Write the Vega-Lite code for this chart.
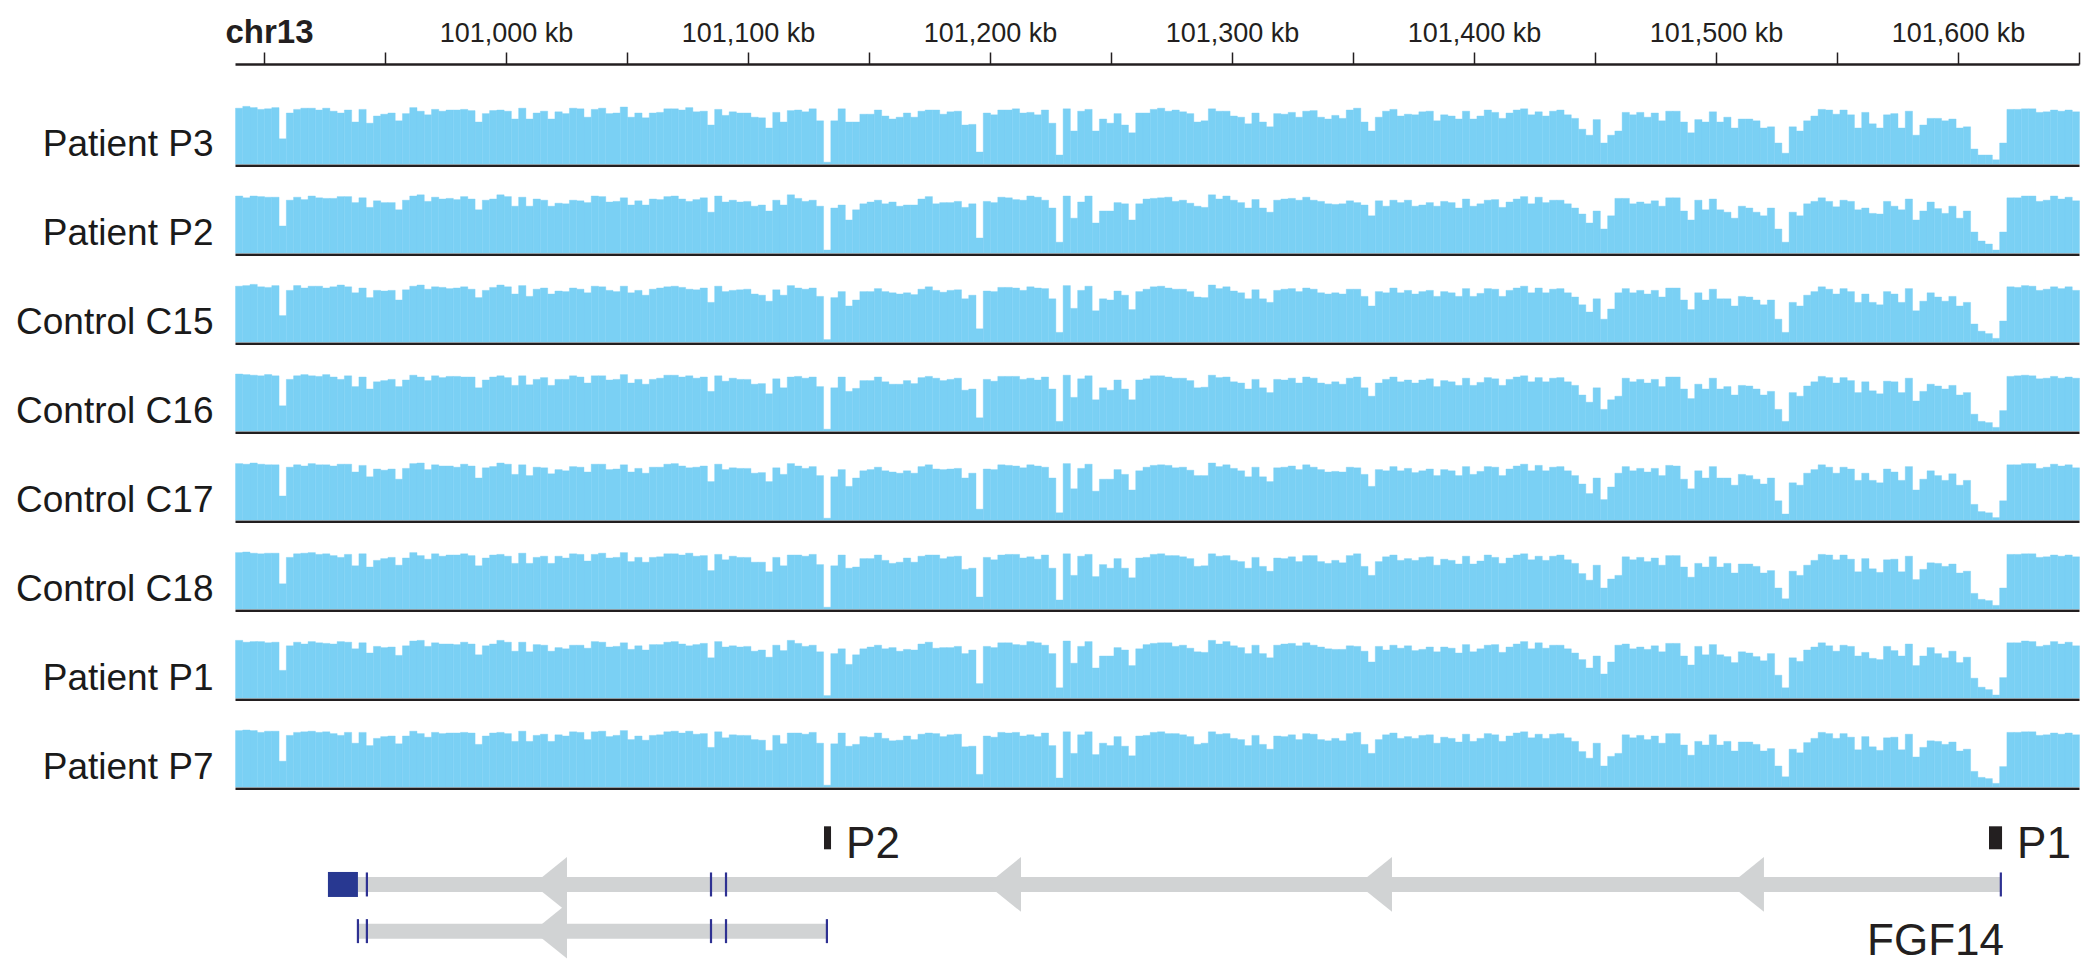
{
"$schema":"https://vega.github.io/schema/vega-lite/v6.json",
"background":"white",
"padding":{"left":15,"top":16,"right":12,"bottom":0},
"spacing":29,
"bounds":"flush",
"config":{"view":{"stroke":null},"font":"Liberation Sans","axis":{"grid":false,"labelFont":"Liberation Sans","titleFont":"Liberation Sans"},"text":{"font":"Liberation Sans"}},
"datasets":{
"P3":[{"p":100888,"v":93},{"p":100891,"v":96},{"p":100894,"v":94},{"p":100897,"v":91},{"p":100900,"v":92},{"p":100903,"v":94},{"p":100906,"v":42},{"p":100909,"v":85},{"p":100912,"v":91},{"p":100915,"v":93},
{"p":100918,"v":93},{"p":100921,"v":90},{"p":100924,"v":93},{"p":100927,"v":88},{"p":100930,"v":85},{"p":100933,"v":90},{"p":100936,"v":70},{"p":100939,"v":91},{"p":100942,"v":68},{"p":100945,"v":80},
{"p":100948,"v":83},{"p":100951,"v":85},{"p":100954,"v":72},{"p":100957,"v":84},{"p":100960,"v":94},{"p":100963,"v":88},{"p":100966,"v":82},{"p":100969,"v":91},{"p":100972,"v":88},{"p":100975,"v":90},
{"p":100978,"v":90},{"p":100981,"v":91},{"p":100984,"v":89},{"p":100987,"v":70},{"p":100990,"v":84},{"p":100993,"v":89},{"p":100996,"v":90},{"p":100999,"v":88},{"p":101002,"v":75},{"p":101005,"v":93},
{"p":101008,"v":75},{"p":101011,"v":85},{"p":101014,"v":88},{"p":101017,"v":75},{"p":101020,"v":87},{"p":101023,"v":84},{"p":101026,"v":93},{"p":101029,"v":92},{"p":101032,"v":78},{"p":101035,"v":91},
{"p":101038,"v":93},{"p":101041,"v":84},{"p":101044,"v":85},{"p":101047,"v":95},{"p":101050,"v":78},{"p":101053,"v":85},{"p":101056,"v":77},{"p":101059,"v":85},{"p":101062,"v":86},{"p":101065,"v":92},
{"p":101068,"v":92},{"p":101071,"v":90},{"p":101074,"v":94},{"p":101077,"v":87},{"p":101080,"v":88},{"p":101083,"v":65},{"p":101086,"v":91},{"p":101089,"v":81},{"p":101092,"v":87},{"p":101095,"v":85},
{"p":101098,"v":85},{"p":101101,"v":78},{"p":101104,"v":77},{"p":101107,"v":60},{"p":101110,"v":86},{"p":101113,"v":70},{"p":101116,"v":89},{"p":101119,"v":90},{"p":101122,"v":87},{"p":101125,"v":92},
{"p":101128,"v":72},{"p":101131,"v":3},{"p":101134,"v":72},{"p":101137,"v":92},{"p":101140,"v":70},{"p":101143,"v":70},{"p":101146,"v":83},{"p":101149,"v":83},{"p":101152,"v":90},{"p":101155,"v":80},
{"p":101158,"v":75},{"p":101161,"v":78},{"p":101164,"v":85},{"p":101167,"v":78},{"p":101170,"v":88},{"p":101173,"v":90},{"p":101176,"v":90},{"p":101179,"v":83},{"p":101182,"v":87},{"p":101185,"v":88},
{"p":101188,"v":65},{"p":101191,"v":66},{"p":101194,"v":20},{"p":101197,"v":85},{"p":101200,"v":82},{"p":101203,"v":90},{"p":101206,"v":90},{"p":101209,"v":92},{"p":101212,"v":85},{"p":101215,"v":86},
{"p":101218,"v":82},{"p":101221,"v":90},{"p":101224,"v":68},{"p":101227,"v":15},{"p":101230,"v":92},{"p":101233,"v":55},{"p":101236,"v":88},{"p":101239,"v":91},{"p":101242,"v":55},{"p":101245,"v":75},
{"p":101248,"v":68},{"p":101251,"v":84},{"p":101254,"v":65},{"p":101257,"v":52},{"p":101260,"v":85},{"p":101263,"v":85},{"p":101266,"v":91},{"p":101269,"v":93},{"p":101272,"v":88},{"p":101275,"v":90},
{"p":101278,"v":87},{"p":101281,"v":84},{"p":101284,"v":70},{"p":101287,"v":72},{"p":101290,"v":92},{"p":101293,"v":88},{"p":101296,"v":88},{"p":101299,"v":80},{"p":101302,"v":78},{"p":101305,"v":67},
{"p":101308,"v":85},{"p":101311,"v":70},{"p":101314,"v":62},{"p":101317,"v":84},{"p":101320,"v":83},{"p":101323,"v":86},{"p":101326,"v":78},{"p":101329,"v":88},{"p":101332,"v":89},{"p":101335,"v":78},
{"p":101338,"v":75},{"p":101341,"v":81},{"p":101344,"v":76},{"p":101347,"v":90},{"p":101350,"v":93},{"p":101353,"v":70},{"p":101356,"v":55},{"p":101359,"v":78},{"p":101362,"v":88},{"p":101365,"v":91},
{"p":101368,"v":80},{"p":101371,"v":83},{"p":101374,"v":82},{"p":101377,"v":87},{"p":101380,"v":88},{"p":101383,"v":72},{"p":101386,"v":82},{"p":101389,"v":80},{"p":101392,"v":75},{"p":101395,"v":88},
{"p":101398,"v":75},{"p":101401,"v":80},{"p":101404,"v":90},{"p":101407,"v":86},{"p":101410,"v":76},{"p":101413,"v":85},{"p":101416,"v":90},{"p":101419,"v":92},{"p":101422,"v":82},{"p":101425,"v":87},
{"p":101428,"v":80},{"p":101431,"v":88},{"p":101434,"v":90},{"p":101437,"v":82},{"p":101440,"v":76},{"p":101443,"v":58},{"p":101446,"v":48},{"p":101449,"v":74},{"p":101452,"v":35},{"p":101455,"v":48},
{"p":101458,"v":55},{"p":101461,"v":86},{"p":101464,"v":82},{"p":101467,"v":86},{"p":101470,"v":78},{"p":101473,"v":85},{"p":101476,"v":72},{"p":101479,"v":88},{"p":101482,"v":88},{"p":101485,"v":70},
{"p":101488,"v":52},{"p":101491,"v":74},{"p":101494,"v":70},{"p":101497,"v":87},{"p":101500,"v":70},{"p":101503,"v":78},{"p":101506,"v":60},{"p":101509,"v":75},{"p":101512,"v":75},{"p":101515,"v":72},
{"p":101518,"v":60},{"p":101521,"v":62},{"p":101524,"v":35},{"p":101527,"v":18},{"p":101530,"v":62},{"p":101533,"v":55},{"p":101536,"v":72},{"p":101539,"v":80},{"p":101542,"v":91},{"p":101545,"v":90},
{"p":101548,"v":83},{"p":101551,"v":90},{"p":101554,"v":82},{"p":101557,"v":60},{"p":101560,"v":86},{"p":101563,"v":67},{"p":101566,"v":60},{"p":101569,"v":82},{"p":101572,"v":84},{"p":101575,"v":60},
{"p":101578,"v":88},{"p":101581,"v":48},{"p":101584,"v":65},{"p":101587,"v":76},{"p":101590,"v":76},{"p":101593,"v":72},{"p":101596,"v":75},{"p":101599,"v":60},{"p":101602,"v":62},{"p":101605,"v":25},
{"p":101608,"v":15},{"p":101611,"v":15},{"p":101614,"v":7},{"p":101617,"v":35},{"p":101620,"v":91},{"p":101623,"v":91},{"p":101626,"v":92},{"p":101629,"v":92},{"p":101632,"v":86},{"p":101635,"v":87},
{"p":101638,"v":90},{"p":101641,"v":88},{"p":101644,"v":90},{"p":101647,"v":87}],
"P2":[{"p":100888,"v":95},{"p":100891,"v":92},{"p":100894,"v":95},{"p":100897,"v":94},{"p":100900,"v":93},{"p":100903,"v":93},{"p":100906,"v":45},{"p":100909,"v":88},{"p":100912,"v":93},{"p":100915,"v":89},
{"p":100918,"v":95},{"p":100921,"v":92},{"p":100924,"v":91},{"p":100927,"v":91},{"p":100930,"v":94},{"p":100933,"v":94},{"p":100936,"v":84},{"p":100939,"v":92},{"p":100942,"v":76},{"p":100945,"v":87},
{"p":100948,"v":84},{"p":100951,"v":84},{"p":100954,"v":72},{"p":100957,"v":88},{"p":100960,"v":95},{"p":100963,"v":97},{"p":100966,"v":86},{"p":100969,"v":93},{"p":100972,"v":90},{"p":100975,"v":91},
{"p":100978,"v":89},{"p":100981,"v":94},{"p":100984,"v":90},{"p":100987,"v":72},{"p":100990,"v":88},{"p":100993,"v":90},{"p":100996,"v":97},{"p":100999,"v":94},{"p":101002,"v":78},{"p":101005,"v":93},
{"p":101008,"v":78},{"p":101011,"v":90},{"p":101014,"v":88},{"p":101017,"v":78},{"p":101020,"v":83},{"p":101023,"v":82},{"p":101026,"v":88},{"p":101029,"v":87},{"p":101032,"v":84},{"p":101035,"v":95},
{"p":101038,"v":94},{"p":101041,"v":85},{"p":101044,"v":86},{"p":101047,"v":92},{"p":101050,"v":80},{"p":101053,"v":87},{"p":101056,"v":80},{"p":101059,"v":90},{"p":101062,"v":89},{"p":101065,"v":94},
{"p":101068,"v":95},{"p":101071,"v":90},{"p":101074,"v":86},{"p":101077,"v":89},{"p":101080,"v":92},{"p":101083,"v":68},{"p":101086,"v":95},{"p":101089,"v":85},{"p":101092,"v":88},{"p":101095,"v":85},
{"p":101098,"v":86},{"p":101101,"v":78},{"p":101104,"v":80},{"p":101107,"v":70},{"p":101110,"v":88},{"p":101113,"v":80},{"p":101116,"v":97},{"p":101119,"v":91},{"p":101122,"v":86},{"p":101125,"v":88},
{"p":101128,"v":78},{"p":101131,"v":5},{"p":101134,"v":75},{"p":101137,"v":80},{"p":101140,"v":55},{"p":101143,"v":72},{"p":101146,"v":82},{"p":101149,"v":85},{"p":101152,"v":88},{"p":101155,"v":82},
{"p":101158,"v":85},{"p":101161,"v":78},{"p":101164,"v":80},{"p":101167,"v":80},{"p":101170,"v":90},{"p":101173,"v":94},{"p":101176,"v":82},{"p":101179,"v":84},{"p":101182,"v":84},{"p":101185,"v":86},
{"p":101188,"v":76},{"p":101191,"v":82},{"p":101194,"v":25},{"p":101197,"v":86},{"p":101200,"v":84},{"p":101203,"v":93},{"p":101206,"v":92},{"p":101209,"v":89},{"p":101212,"v":88},{"p":101215,"v":95},
{"p":101218,"v":93},{"p":101221,"v":88},{"p":101224,"v":75},{"p":101227,"v":18},{"p":101230,"v":95},{"p":101233,"v":58},{"p":101236,"v":85},{"p":101239,"v":95},{"p":101242,"v":50},{"p":101245,"v":70},
{"p":101248,"v":70},{"p":101251,"v":84},{"p":101254,"v":82},{"p":101257,"v":55},{"p":101260,"v":82},{"p":101263,"v":90},{"p":101266,"v":91},{"p":101269,"v":92},{"p":101272,"v":93},{"p":101275,"v":86},
{"p":101278,"v":88},{"p":101281,"v":83},{"p":101284,"v":78},{"p":101287,"v":76},{"p":101290,"v":97},{"p":101293,"v":90},{"p":101296,"v":95},{"p":101299,"v":88},{"p":101302,"v":84},{"p":101305,"v":75},
{"p":101308,"v":89},{"p":101311,"v":75},{"p":101314,"v":68},{"p":101317,"v":88},{"p":101320,"v":90},{"p":101323,"v":91},{"p":101326,"v":88},{"p":101329,"v":93},{"p":101332,"v":88},{"p":101335,"v":86},
{"p":101338,"v":82},{"p":101341,"v":81},{"p":101344,"v":82},{"p":101347,"v":87},{"p":101350,"v":84},{"p":101353,"v":80},{"p":101356,"v":62},{"p":101359,"v":87},{"p":101362,"v":78},{"p":101365,"v":88},
{"p":101368,"v":84},{"p":101371,"v":88},{"p":101374,"v":78},{"p":101377,"v":80},{"p":101380,"v":84},{"p":101383,"v":78},{"p":101386,"v":86},{"p":101389,"v":84},{"p":101392,"v":75},{"p":101395,"v":90},
{"p":101398,"v":78},{"p":101401,"v":82},{"p":101404,"v":88},{"p":101407,"v":89},{"p":101410,"v":76},{"p":101413,"v":85},{"p":101416,"v":90},{"p":101419,"v":94},{"p":101422,"v":82},{"p":101425,"v":93},
{"p":101428,"v":84},{"p":101431,"v":88},{"p":101434,"v":88},{"p":101437,"v":82},{"p":101440,"v":75},{"p":101443,"v":65},{"p":101446,"v":50},{"p":101449,"v":70},{"p":101452,"v":40},{"p":101455,"v":62},
{"p":101458,"v":91},{"p":101461,"v":91},{"p":101464,"v":82},{"p":101467,"v":85},{"p":101470,"v":82},{"p":101473,"v":87},{"p":101476,"v":78},{"p":101479,"v":92},{"p":101482,"v":92},{"p":101485,"v":70},
{"p":101488,"v":55},{"p":101491,"v":88},{"p":101494,"v":72},{"p":101497,"v":90},{"p":101500,"v":72},{"p":101503,"v":68},{"p":101506,"v":58},{"p":101509,"v":78},{"p":101512,"v":75},{"p":101515,"v":68},
{"p":101518,"v":62},{"p":101521,"v":75},{"p":101524,"v":40},{"p":101527,"v":18},{"p":101530,"v":68},{"p":101533,"v":62},{"p":101536,"v":82},{"p":101539,"v":86},{"p":101542,"v":92},{"p":101545,"v":86},
{"p":101548,"v":77},{"p":101551,"v":88},{"p":101554,"v":86},{"p":101557,"v":72},{"p":101560,"v":75},{"p":101563,"v":66},{"p":101566,"v":65},{"p":101569,"v":86},{"p":101572,"v":78},{"p":101575,"v":72},
{"p":101578,"v":90},{"p":101581,"v":55},{"p":101584,"v":70},{"p":101587,"v":85},{"p":101590,"v":74},{"p":101593,"v":66},{"p":101596,"v":78},{"p":101599,"v":58},{"p":101602,"v":70},{"p":101605,"v":35},
{"p":101608,"v":20},{"p":101611,"v":15},{"p":101614,"v":5},{"p":101617,"v":35},{"p":101620,"v":92},{"p":101623,"v":92},{"p":101626,"v":95},{"p":101629,"v":95},{"p":101632,"v":86},{"p":101635,"v":88},
{"p":101638,"v":95},{"p":101641,"v":90},{"p":101644,"v":93},{"p":101647,"v":87}],
"C15":[{"p":100888,"v":93},{"p":100891,"v":94},{"p":100894,"v":96},{"p":100897,"v":92},{"p":100900,"v":91},{"p":100903,"v":94},{"p":100906,"v":44},{"p":100909,"v":86},{"p":100912,"v":94},{"p":100915,"v":90},
{"p":100918,"v":93},{"p":100921,"v":93},{"p":100924,"v":90},{"p":100927,"v":92},{"p":100930,"v":95},{"p":100933,"v":92},{"p":100936,"v":82},{"p":100939,"v":90},{"p":100942,"v":74},{"p":100945,"v":86},
{"p":100948,"v":85},{"p":100951,"v":86},{"p":100954,"v":70},{"p":100957,"v":87},{"p":100960,"v":93},{"p":100963,"v":95},{"p":100966,"v":88},{"p":100969,"v":92},{"p":100972,"v":91},{"p":100975,"v":89},
{"p":100978,"v":90},{"p":100981,"v":92},{"p":100984,"v":88},{"p":100987,"v":74},{"p":100990,"v":86},{"p":100993,"v":91},{"p":100996,"v":95},{"p":100999,"v":92},{"p":101002,"v":80},{"p":101005,"v":94},
{"p":101008,"v":76},{"p":101011,"v":88},{"p":101014,"v":90},{"p":101017,"v":80},{"p":101020,"v":85},{"p":101023,"v":84},{"p":101026,"v":90},{"p":101029,"v":88},{"p":101032,"v":82},{"p":101035,"v":93},
{"p":101038,"v":92},{"p":101041,"v":86},{"p":101044,"v":84},{"p":101047,"v":93},{"p":101050,"v":82},{"p":101053,"v":86},{"p":101056,"v":78},{"p":101059,"v":88},{"p":101062,"v":90},{"p":101065,"v":92},
{"p":101068,"v":93},{"p":101071,"v":91},{"p":101074,"v":88},{"p":101077,"v":87},{"p":101080,"v":90},{"p":101083,"v":66},{"p":101086,"v":93},{"p":101089,"v":84},{"p":101092,"v":86},{"p":101095,"v":87},
{"p":101098,"v":88},{"p":101101,"v":80},{"p":101104,"v":78},{"p":101107,"v":68},{"p":101110,"v":87},{"p":101113,"v":78},{"p":101116,"v":94},{"p":101119,"v":90},{"p":101122,"v":88},{"p":101125,"v":90},
{"p":101128,"v":76},{"p":101131,"v":4},{"p":101134,"v":74},{"p":101137,"v":84},{"p":101140,"v":60},{"p":101143,"v":70},{"p":101146,"v":84},{"p":101149,"v":84},{"p":101152,"v":89},{"p":101155,"v":84},
{"p":101158,"v":82},{"p":101161,"v":80},{"p":101164,"v":82},{"p":101167,"v":79},{"p":101170,"v":88},{"p":101173,"v":92},{"p":101176,"v":86},{"p":101179,"v":83},{"p":101182,"v":86},{"p":101185,"v":87},
{"p":101188,"v":72},{"p":101191,"v":78},{"p":101194,"v":22},{"p":101197,"v":85},{"p":101200,"v":84},{"p":101203,"v":91},{"p":101206,"v":91},{"p":101209,"v":90},{"p":101212,"v":86},{"p":101215,"v":92},
{"p":101218,"v":90},{"p":101221,"v":89},{"p":101224,"v":72},{"p":101227,"v":16},{"p":101230,"v":94},{"p":101233,"v":56},{"p":101236,"v":86},{"p":101239,"v":93},{"p":101242,"v":52},{"p":101245,"v":72},
{"p":101248,"v":70},{"p":101251,"v":85},{"p":101254,"v":78},{"p":101257,"v":54},{"p":101260,"v":84},{"p":101263,"v":88},{"p":101266,"v":92},{"p":101269,"v":93},{"p":101272,"v":90},{"p":101275,"v":88},
{"p":101278,"v":88},{"p":101281,"v":84},{"p":101284,"v":75},{"p":101287,"v":74},{"p":101290,"v":95},{"p":101293,"v":89},{"p":101296,"v":92},{"p":101299,"v":85},{"p":101302,"v":82},{"p":101305,"v":72},
{"p":101308,"v":87},{"p":101311,"v":72},{"p":101314,"v":66},{"p":101317,"v":86},{"p":101320,"v":88},{"p":101323,"v":89},{"p":101326,"v":84},{"p":101329,"v":90},{"p":101332,"v":88},{"p":101335,"v":82},
{"p":101338,"v":80},{"p":101341,"v":82},{"p":101344,"v":80},{"p":101347,"v":88},{"p":101350,"v":88},{"p":101353,"v":76},{"p":101356,"v":60},{"p":101359,"v":84},{"p":101362,"v":82},{"p":101365,"v":90},
{"p":101368,"v":82},{"p":101371,"v":86},{"p":101374,"v":80},{"p":101377,"v":84},{"p":101380,"v":86},{"p":101383,"v":76},{"p":101386,"v":84},{"p":101389,"v":82},{"p":101392,"v":76},{"p":101395,"v":89},
{"p":101398,"v":76},{"p":101401,"v":81},{"p":101404,"v":89},{"p":101407,"v":88},{"p":101410,"v":76},{"p":101413,"v":86},{"p":101416,"v":90},{"p":101419,"v":93},{"p":101422,"v":82},{"p":101425,"v":90},
{"p":101428,"v":82},{"p":101431,"v":88},{"p":101434,"v":89},{"p":101437,"v":82},{"p":101440,"v":75},{"p":101443,"v":62},{"p":101446,"v":50},{"p":101449,"v":72},{"p":101452,"v":38},{"p":101455,"v":55},
{"p":101458,"v":82},{"p":101461,"v":89},{"p":101464,"v":82},{"p":101467,"v":86},{"p":101470,"v":80},{"p":101473,"v":86},{"p":101476,"v":75},{"p":101479,"v":90},{"p":101482,"v":90},{"p":101485,"v":70},
{"p":101488,"v":54},{"p":101491,"v":82},{"p":101494,"v":70},{"p":101497,"v":88},{"p":101500,"v":72},{"p":101503,"v":72},{"p":101506,"v":60},{"p":101509,"v":76},{"p":101512,"v":75},{"p":101515,"v":70},
{"p":101518,"v":62},{"p":101521,"v":70},{"p":101524,"v":38},{"p":101527,"v":16},{"p":101530,"v":66},{"p":101533,"v":60},{"p":101536,"v":78},{"p":101539,"v":84},{"p":101542,"v":92},{"p":101545,"v":88},
{"p":101548,"v":80},{"p":101551,"v":89},{"p":101554,"v":84},{"p":101557,"v":66},{"p":101560,"v":80},{"p":101563,"v":66},{"p":101566,"v":62},{"p":101569,"v":84},{"p":101572,"v":80},{"p":101575,"v":66},
{"p":101578,"v":89},{"p":101581,"v":52},{"p":101584,"v":68},{"p":101587,"v":82},{"p":101590,"v":75},{"p":101593,"v":68},{"p":101596,"v":76},{"p":101599,"v":60},{"p":101602,"v":66},{"p":101605,"v":30},
{"p":101608,"v":18},{"p":101611,"v":14},{"p":101614,"v":6},{"p":101617,"v":35},{"p":101620,"v":92},{"p":101623,"v":91},{"p":101626,"v":94},{"p":101629,"v":93},{"p":101632,"v":86},{"p":101635,"v":88},
{"p":101638,"v":92},{"p":101641,"v":89},{"p":101644,"v":92},{"p":101647,"v":86}],
"C16":[{"p":100888,"v":95},{"p":100891,"v":94},{"p":100894,"v":93},{"p":100897,"v":92},{"p":100900,"v":94},{"p":100903,"v":92},{"p":100906,"v":42},{"p":100909,"v":86},{"p":100912,"v":92},{"p":100915,"v":94},
{"p":100918,"v":92},{"p":100921,"v":91},{"p":100924,"v":94},{"p":100927,"v":90},{"p":100930,"v":86},{"p":100933,"v":92},{"p":100936,"v":74},{"p":100939,"v":90},{"p":100942,"v":70},{"p":100945,"v":82},
{"p":100948,"v":84},{"p":100951,"v":86},{"p":100954,"v":74},{"p":100957,"v":85},{"p":100960,"v":93},{"p":100963,"v":90},{"p":100966,"v":84},{"p":100969,"v":92},{"p":100972,"v":89},{"p":100975,"v":91},
{"p":100978,"v":91},{"p":100981,"v":90},{"p":100984,"v":90},{"p":100987,"v":72},{"p":100990,"v":85},{"p":100993,"v":90},{"p":100996,"v":92},{"p":100999,"v":89},{"p":101002,"v":76},{"p":101005,"v":92},
{"p":101008,"v":77},{"p":101011,"v":86},{"p":101014,"v":89},{"p":101017,"v":76},{"p":101020,"v":86},{"p":101023,"v":86},{"p":101026,"v":92},{"p":101029,"v":90},{"p":101032,"v":80},{"p":101035,"v":92},
{"p":101038,"v":92},{"p":101041,"v":85},{"p":101044,"v":86},{"p":101047,"v":94},{"p":101050,"v":80},{"p":101053,"v":86},{"p":101056,"v":78},{"p":101059,"v":86},{"p":101062,"v":88},{"p":101065,"v":93},
{"p":101068,"v":93},{"p":101071,"v":90},{"p":101074,"v":92},{"p":101077,"v":88},{"p":101080,"v":90},{"p":101083,"v":66},{"p":101086,"v":92},{"p":101089,"v":83},{"p":101092,"v":88},{"p":101095,"v":86},
{"p":101098,"v":86},{"p":101101,"v":78},{"p":101104,"v":79},{"p":101107,"v":62},{"p":101110,"v":87},{"p":101113,"v":72},{"p":101116,"v":90},{"p":101119,"v":91},{"p":101122,"v":88},{"p":101125,"v":90},
{"p":101128,"v":74},{"p":101131,"v":3},{"p":101134,"v":72},{"p":101137,"v":90},{"p":101140,"v":66},{"p":101143,"v":71},{"p":101146,"v":84},{"p":101149,"v":84},{"p":101152,"v":90},{"p":101155,"v":82},
{"p":101158,"v":78},{"p":101161,"v":78},{"p":101164,"v":84},{"p":101167,"v":79},{"p":101170,"v":89},{"p":101173,"v":91},{"p":101176,"v":88},{"p":101179,"v":84},{"p":101182,"v":86},{"p":101185,"v":88},
{"p":101188,"v":68},{"p":101191,"v":70},{"p":101194,"v":22},{"p":101197,"v":86},{"p":101200,"v":83},{"p":101203,"v":91},{"p":101206,"v":91},{"p":101209,"v":91},{"p":101212,"v":86},{"p":101215,"v":88},
{"p":101218,"v":85},{"p":101221,"v":90},{"p":101224,"v":70},{"p":101227,"v":16},{"p":101230,"v":93},{"p":101233,"v":56},{"p":101236,"v":87},{"p":101239,"v":92},{"p":101242,"v":52},{"p":101245,"v":72},
{"p":101248,"v":68},{"p":101251,"v":85},{"p":101254,"v":70},{"p":101257,"v":52},{"p":101260,"v":85},{"p":101263,"v":87},{"p":101266,"v":92},{"p":101269,"v":92},{"p":101272,"v":90},{"p":101275,"v":88},
{"p":101278,"v":88},{"p":101281,"v":84},{"p":101284,"v":72},{"p":101287,"v":73},{"p":101290,"v":93},{"p":101293,"v":89},{"p":101296,"v":90},{"p":101299,"v":82},{"p":101302,"v":80},{"p":101305,"v":70},
{"p":101308,"v":86},{"p":101311,"v":72},{"p":101314,"v":64},{"p":101317,"v":86},{"p":101320,"v":85},{"p":101323,"v":88},{"p":101326,"v":80},{"p":101329,"v":90},{"p":101332,"v":88},{"p":101335,"v":80},
{"p":101338,"v":78},{"p":101341,"v":82},{"p":101344,"v":78},{"p":101347,"v":88},{"p":101350,"v":90},{"p":101353,"v":72},{"p":101356,"v":58},{"p":101359,"v":80},{"p":101362,"v":86},{"p":101365,"v":90},
{"p":101368,"v":82},{"p":101371,"v":85},{"p":101374,"v":80},{"p":101377,"v":85},{"p":101380,"v":87},{"p":101383,"v":74},{"p":101386,"v":84},{"p":101389,"v":82},{"p":101392,"v":76},{"p":101395,"v":88},
{"p":101398,"v":76},{"p":101401,"v":81},{"p":101404,"v":89},{"p":101407,"v":87},{"p":101410,"v":76},{"p":101413,"v":86},{"p":101416,"v":90},{"p":101419,"v":92},{"p":101422,"v":82},{"p":101425,"v":89},
{"p":101428,"v":82},{"p":101431,"v":88},{"p":101434,"v":89},{"p":101437,"v":82},{"p":101440,"v":76},{"p":101443,"v":60},{"p":101446,"v":48},{"p":101449,"v":72},{"p":101452,"v":36},{"p":101455,"v":52},
{"p":101458,"v":58},{"p":101461,"v":88},{"p":101464,"v":82},{"p":101467,"v":86},{"p":101470,"v":80},{"p":101473,"v":86},{"p":101476,"v":74},{"p":101479,"v":90},{"p":101482,"v":90},{"p":101485,"v":70},
{"p":101488,"v":54},{"p":101491,"v":78},{"p":101494,"v":70},{"p":101497,"v":88},{"p":101500,"v":70},{"p":101503,"v":74},{"p":101506,"v":60},{"p":101509,"v":76},{"p":101512,"v":75},{"p":101515,"v":70},
{"p":101518,"v":60},{"p":101521,"v":66},{"p":101524,"v":36},{"p":101527,"v":16},{"p":101530,"v":64},{"p":101533,"v":58},{"p":101536,"v":75},{"p":101539,"v":82},{"p":101542,"v":91},{"p":101545,"v":89},
{"p":101548,"v":80},{"p":101551,"v":89},{"p":101554,"v":84},{"p":101557,"v":64},{"p":101560,"v":82},{"p":101563,"v":67},{"p":101566,"v":62},{"p":101569,"v":83},{"p":101572,"v":82},{"p":101575,"v":64},
{"p":101578,"v":88},{"p":101581,"v":50},{"p":101584,"v":66},{"p":101587,"v":78},{"p":101590,"v":75},{"p":101593,"v":70},{"p":101596,"v":76},{"p":101599,"v":60},{"p":101602,"v":64},{"p":101605,"v":28},
{"p":101608,"v":16},{"p":101611,"v":14},{"p":101614,"v":6},{"p":101617,"v":34},{"p":101620,"v":91},{"p":101623,"v":92},{"p":101626,"v":93},{"p":101629,"v":92},{"p":101632,"v":87},{"p":101635,"v":88},
{"p":101638,"v":91},{"p":101641,"v":88},{"p":101644,"v":90},{"p":101647,"v":88}],
"C17":[{"p":100888,"v":94},{"p":100891,"v":93},{"p":100894,"v":95},{"p":100897,"v":93},{"p":100900,"v":92},{"p":100903,"v":92},{"p":100906,"v":40},{"p":100909,"v":88},{"p":100912,"v":92},{"p":100915,"v":90},
{"p":100918,"v":94},{"p":100921,"v":92},{"p":100924,"v":92},{"p":100927,"v":90},{"p":100930,"v":93},{"p":100933,"v":93},{"p":100936,"v":80},{"p":100939,"v":91},{"p":100942,"v":72},{"p":100945,"v":85},
{"p":100948,"v":83},{"p":100951,"v":85},{"p":100954,"v":68},{"p":100957,"v":86},{"p":100960,"v":94},{"p":100963,"v":95},{"p":100966,"v":84},{"p":100969,"v":92},{"p":100972,"v":90},{"p":100975,"v":90},
{"p":100978,"v":88},{"p":100981,"v":93},{"p":100984,"v":90},{"p":100987,"v":70},{"p":100990,"v":87},{"p":100993,"v":89},{"p":100996,"v":95},{"p":100999,"v":93},{"p":101002,"v":76},{"p":101005,"v":92},
{"p":101008,"v":74},{"p":101011,"v":88},{"p":101014,"v":87},{"p":101017,"v":77},{"p":101020,"v":84},{"p":101023,"v":82},{"p":101026,"v":89},{"p":101029,"v":88},{"p":101032,"v":80},{"p":101035,"v":93},
{"p":101038,"v":93},{"p":101041,"v":84},{"p":101044,"v":85},{"p":101047,"v":92},{"p":101050,"v":80},{"p":101053,"v":86},{"p":101056,"v":78},{"p":101059,"v":88},{"p":101062,"v":88},{"p":101065,"v":93},
{"p":101068,"v":94},{"p":101071,"v":90},{"p":101074,"v":87},{"p":101077,"v":88},{"p":101080,"v":90},{"p":101083,"v":64},{"p":101086,"v":93},{"p":101089,"v":84},{"p":101092,"v":87},{"p":101095,"v":86},
{"p":101098,"v":86},{"p":101101,"v":78},{"p":101104,"v":79},{"p":101107,"v":64},{"p":101110,"v":87},{"p":101113,"v":76},{"p":101116,"v":94},{"p":101119,"v":90},{"p":101122,"v":86},{"p":101125,"v":89},
{"p":101128,"v":74},{"p":101131,"v":3},{"p":101134,"v":72},{"p":101137,"v":84},{"p":101140,"v":56},{"p":101143,"v":70},{"p":101146,"v":82},{"p":101149,"v":84},{"p":101152,"v":88},{"p":101155,"v":82},
{"p":101158,"v":80},{"p":101161,"v":78},{"p":101164,"v":82},{"p":101167,"v":78},{"p":101170,"v":89},{"p":101173,"v":92},{"p":101176,"v":85},{"p":101179,"v":84},{"p":101182,"v":85},{"p":101185,"v":86},
{"p":101188,"v":70},{"p":101191,"v":78},{"p":101194,"v":18},{"p":101197,"v":85},{"p":101200,"v":84},{"p":101203,"v":92},{"p":101206,"v":91},{"p":101209,"v":90},{"p":101212,"v":87},{"p":101215,"v":92},
{"p":101218,"v":90},{"p":101221,"v":88},{"p":101224,"v":70},{"p":101227,"v":12},{"p":101230,"v":94},{"p":101233,"v":52},{"p":101236,"v":86},{"p":101239,"v":93},{"p":101242,"v":48},{"p":101245,"v":68},
{"p":101248,"v":68},{"p":101251,"v":84},{"p":101254,"v":76},{"p":101257,"v":50},{"p":101260,"v":82},{"p":101263,"v":88},{"p":101266,"v":91},{"p":101269,"v":92},{"p":101272,"v":91},{"p":101275,"v":87},
{"p":101278,"v":88},{"p":101281,"v":83},{"p":101284,"v":74},{"p":101287,"v":74},{"p":101290,"v":95},{"p":101293,"v":89},{"p":101296,"v":92},{"p":101299,"v":86},{"p":101302,"v":82},{"p":101305,"v":72},
{"p":101308,"v":88},{"p":101311,"v":72},{"p":101314,"v":64},{"p":101317,"v":87},{"p":101320,"v":88},{"p":101323,"v":90},{"p":101326,"v":84},{"p":101329,"v":92},{"p":101332,"v":88},{"p":101335,"v":84},
{"p":101338,"v":80},{"p":101341,"v":81},{"p":101344,"v":80},{"p":101347,"v":88},{"p":101350,"v":87},{"p":101353,"v":76},{"p":101356,"v":56},{"p":101359,"v":84},{"p":101362,"v":82},{"p":101365,"v":89},
{"p":101368,"v":82},{"p":101371,"v":86},{"p":101374,"v":79},{"p":101377,"v":82},{"p":101380,"v":85},{"p":101383,"v":74},{"p":101386,"v":84},{"p":101389,"v":82},{"p":101392,"v":74},{"p":101395,"v":89},
{"p":101398,"v":76},{"p":101401,"v":81},{"p":101404,"v":89},{"p":101407,"v":88},{"p":101410,"v":74},{"p":101413,"v":85},{"p":101416,"v":90},{"p":101419,"v":93},{"p":101422,"v":82},{"p":101425,"v":91},
{"p":101428,"v":82},{"p":101431,"v":88},{"p":101434,"v":89},{"p":101437,"v":82},{"p":101440,"v":74},{"p":101443,"v":60},{"p":101446,"v":44},{"p":101449,"v":70},{"p":101452,"v":34},{"p":101455,"v":55},
{"p":101458,"v":78},{"p":101461,"v":89},{"p":101464,"v":82},{"p":101467,"v":86},{"p":101470,"v":80},{"p":101473,"v":86},{"p":101476,"v":74},{"p":101479,"v":91},{"p":101482,"v":90},{"p":101485,"v":68},
{"p":101488,"v":52},{"p":101491,"v":82},{"p":101494,"v":70},{"p":101497,"v":89},{"p":101500,"v":70},{"p":101503,"v":70},{"p":101506,"v":58},{"p":101509,"v":76},{"p":101512,"v":74},{"p":101515,"v":68},
{"p":101518,"v":60},{"p":101521,"v":70},{"p":101524,"v":32},{"p":101527,"v":10},{"p":101530,"v":62},{"p":101533,"v":58},{"p":101536,"v":78},{"p":101539,"v":84},{"p":101542,"v":92},{"p":101545,"v":88},
{"p":101548,"v":78},{"p":101551,"v":88},{"p":101554,"v":85},{"p":101557,"v":66},{"p":101560,"v":78},{"p":101563,"v":66},{"p":101566,"v":62},{"p":101569,"v":85},{"p":101572,"v":80},{"p":101575,"v":66},
{"p":101578,"v":89},{"p":101581,"v":50},{"p":101584,"v":68},{"p":101587,"v":82},{"p":101590,"v":74},{"p":101593,"v":66},{"p":101596,"v":77},{"p":101599,"v":58},{"p":101602,"v":66},{"p":101605,"v":26},
{"p":101608,"v":14},{"p":101611,"v":12},{"p":101614,"v":4},{"p":101617,"v":32},{"p":101620,"v":92},{"p":101623,"v":92},{"p":101626,"v":94},{"p":101629,"v":94},{"p":101632,"v":86},{"p":101635,"v":88},
{"p":101638,"v":93},{"p":101641,"v":90},{"p":101644,"v":92},{"p":101647,"v":87}],
"C18":[{"p":100888,"v":94},{"p":100891,"v":95},{"p":100894,"v":93},{"p":100897,"v":92},{"p":100900,"v":93},{"p":100903,"v":93},{"p":100906,"v":42},{"p":100909,"v":86},{"p":100912,"v":92},{"p":100915,"v":93},
{"p":100918,"v":94},{"p":100921,"v":91},{"p":100924,"v":92},{"p":100927,"v":89},{"p":100930,"v":86},{"p":100933,"v":91},{"p":100936,"v":72},{"p":100939,"v":92},{"p":100942,"v":70},{"p":100945,"v":81},
{"p":100948,"v":84},{"p":100951,"v":86},{"p":100954,"v":73},{"p":100957,"v":85},{"p":100960,"v":94},{"p":100963,"v":89},{"p":100966,"v":83},{"p":100969,"v":92},{"p":100972,"v":88},{"p":100975,"v":90},
{"p":100978,"v":90},{"p":100981,"v":92},{"p":100984,"v":89},{"p":100987,"v":72},{"p":100990,"v":85},{"p":100993,"v":90},{"p":100996,"v":91},{"p":100999,"v":88},{"p":101002,"v":76},{"p":101005,"v":93},
{"p":101008,"v":76},{"p":101011,"v":86},{"p":101014,"v":88},{"p":101017,"v":76},{"p":101020,"v":88},{"p":101023,"v":85},{"p":101026,"v":92},{"p":101029,"v":91},{"p":101032,"v":80},{"p":101035,"v":91},
{"p":101038,"v":93},{"p":101041,"v":85},{"p":101044,"v":86},{"p":101047,"v":94},{"p":101050,"v":79},{"p":101053,"v":86},{"p":101056,"v":78},{"p":101059,"v":86},{"p":101062,"v":87},{"p":101065,"v":92},
{"p":101068,"v":92},{"p":101071,"v":90},{"p":101074,"v":93},{"p":101077,"v":88},{"p":101080,"v":89},{"p":101083,"v":64},{"p":101086,"v":91},{"p":101089,"v":82},{"p":101092,"v":88},{"p":101095,"v":86},
{"p":101098,"v":86},{"p":101101,"v":78},{"p":101104,"v":78},{"p":101107,"v":62},{"p":101110,"v":86},{"p":101113,"v":72},{"p":101116,"v":90},{"p":101119,"v":90},{"p":101122,"v":88},{"p":101125,"v":91},
{"p":101128,"v":74},{"p":101131,"v":3},{"p":101134,"v":72},{"p":101137,"v":90},{"p":101140,"v":68},{"p":101143,"v":70},{"p":101146,"v":84},{"p":101149,"v":84},{"p":101152,"v":90},{"p":101155,"v":81},
{"p":101158,"v":76},{"p":101161,"v":78},{"p":101164,"v":85},{"p":101167,"v":78},{"p":101170,"v":88},{"p":101173,"v":90},{"p":101176,"v":90},{"p":101179,"v":84},{"p":101182,"v":87},{"p":101185,"v":88},
{"p":101188,"v":66},{"p":101191,"v":68},{"p":101194,"v":20},{"p":101197,"v":86},{"p":101200,"v":82},{"p":101203,"v":90},{"p":101206,"v":91},{"p":101209,"v":91},{"p":101212,"v":85},{"p":101215,"v":87},
{"p":101218,"v":83},{"p":101221,"v":90},{"p":101224,"v":68},{"p":101227,"v":15},{"p":101230,"v":92},{"p":101233,"v":56},{"p":101236,"v":88},{"p":101239,"v":91},{"p":101242,"v":54},{"p":101245,"v":74},
{"p":101248,"v":68},{"p":101251,"v":84},{"p":101254,"v":68},{"p":101257,"v":52},{"p":101260,"v":85},{"p":101263,"v":86},{"p":101266,"v":91},{"p":101269,"v":92},{"p":101272,"v":89},{"p":101275,"v":89},
{"p":101278,"v":87},{"p":101281,"v":84},{"p":101284,"v":71},{"p":101287,"v":72},{"p":101290,"v":92},{"p":101293,"v":88},{"p":101296,"v":89},{"p":101299,"v":81},{"p":101302,"v":79},{"p":101305,"v":68},
{"p":101308,"v":86},{"p":101311,"v":71},{"p":101314,"v":63},{"p":101317,"v":85},{"p":101320,"v":84},{"p":101323,"v":87},{"p":101326,"v":79},{"p":101329,"v":89},{"p":101332,"v":89},{"p":101335,"v":79},
{"p":101338,"v":76},{"p":101341,"v":81},{"p":101344,"v":77},{"p":101347,"v":89},{"p":101350,"v":92},{"p":101353,"v":71},{"p":101356,"v":56},{"p":101359,"v":79},{"p":101362,"v":87},{"p":101365,"v":90},
{"p":101368,"v":81},{"p":101371,"v":84},{"p":101374,"v":81},{"p":101377,"v":86},{"p":101380,"v":87},{"p":101383,"v":73},{"p":101386,"v":83},{"p":101389,"v":81},{"p":101392,"v":75},{"p":101395,"v":88},
{"p":101398,"v":75},{"p":101401,"v":80},{"p":101404,"v":90},{"p":101407,"v":86},{"p":101410,"v":76},{"p":101413,"v":85},{"p":101416,"v":90},{"p":101419,"v":92},{"p":101422,"v":82},{"p":101425,"v":88},
{"p":101428,"v":81},{"p":101431,"v":88},{"p":101434,"v":90},{"p":101437,"v":82},{"p":101440,"v":76},{"p":101443,"v":59},{"p":101446,"v":48},{"p":101449,"v":73},{"p":101452,"v":35},{"p":101455,"v":50},
{"p":101458,"v":56},{"p":101461,"v":87},{"p":101464,"v":82},{"p":101467,"v":86},{"p":101470,"v":79},{"p":101473,"v":85},{"p":101476,"v":73},{"p":101479,"v":89},{"p":101482,"v":89},{"p":101485,"v":70},
{"p":101488,"v":53},{"p":101491,"v":76},{"p":101494,"v":70},{"p":101497,"v":87},{"p":101500,"v":70},{"p":101503,"v":76},{"p":101506,"v":60},{"p":101509,"v":75},{"p":101512,"v":75},{"p":101515,"v":71},
{"p":101518,"v":60},{"p":101521,"v":64},{"p":101524,"v":35},{"p":101527,"v":17},{"p":101530,"v":63},{"p":101533,"v":56},{"p":101536,"v":73},{"p":101539,"v":81},{"p":101542,"v":91},{"p":101545,"v":90},
{"p":101548,"v":82},{"p":101551,"v":90},{"p":101554,"v":83},{"p":101557,"v":62},{"p":101560,"v":84},{"p":101563,"v":67},{"p":101566,"v":61},{"p":101569,"v":82},{"p":101572,"v":83},{"p":101575,"v":62},
{"p":101578,"v":88},{"p":101581,"v":49},{"p":101584,"v":66},{"p":101587,"v":77},{"p":101590,"v":76},{"p":101593,"v":71},{"p":101596,"v":75},{"p":101599,"v":60},{"p":101602,"v":63},{"p":101605,"v":26},
{"p":101608,"v":16},{"p":101611,"v":14},{"p":101614,"v":6},{"p":101617,"v":35},{"p":101620,"v":91},{"p":101623,"v":91},{"p":101626,"v":92},{"p":101629,"v":92},{"p":101632,"v":86},{"p":101635,"v":87},
{"p":101638,"v":90},{"p":101641,"v":88},{"p":101644,"v":90},{"p":101647,"v":87}],
"P1":[{"p":100888,"v":96},{"p":100891,"v":93},{"p":100894,"v":94},{"p":100897,"v":94},{"p":100900,"v":92},{"p":100903,"v":93},{"p":100906,"v":46},{"p":100909,"v":87},{"p":100912,"v":93},{"p":100915,"v":90},
{"p":100918,"v":94},{"p":100921,"v":92},{"p":100924,"v":91},{"p":100927,"v":90},{"p":100930,"v":94},{"p":100933,"v":93},{"p":100936,"v":82},{"p":100939,"v":92},{"p":100942,"v":75},{"p":100945,"v":86},
{"p":100948,"v":84},{"p":100951,"v":85},{"p":100954,"v":71},{"p":100957,"v":87},{"p":100960,"v":95},{"p":100963,"v":96},{"p":100966,"v":86},{"p":100969,"v":92},{"p":100972,"v":90},{"p":100975,"v":90},
{"p":100978,"v":89},{"p":100981,"v":93},{"p":100984,"v":90},{"p":100987,"v":72},{"p":100990,"v":87},{"p":100993,"v":90},{"p":100996,"v":96},{"p":100999,"v":93},{"p":101002,"v":78},{"p":101005,"v":93},
{"p":101008,"v":77},{"p":101011,"v":89},{"p":101014,"v":88},{"p":101017,"v":78},{"p":101020,"v":84},{"p":101023,"v":82},{"p":101026,"v":88},{"p":101029,"v":88},{"p":101032,"v":83},{"p":101035,"v":94},
{"p":101038,"v":93},{"p":101041,"v":85},{"p":101044,"v":86},{"p":101047,"v":92},{"p":101050,"v":81},{"p":101053,"v":87},{"p":101056,"v":80},{"p":101059,"v":89},{"p":101062,"v":89},{"p":101065,"v":93},
{"p":101068,"v":94},{"p":101071,"v":90},{"p":101074,"v":87},{"p":101077,"v":89},{"p":101080,"v":91},{"p":101083,"v":67},{"p":101086,"v":94},{"p":101089,"v":85},{"p":101092,"v":87},{"p":101095,"v":85},
{"p":101098,"v":86},{"p":101101,"v":78},{"p":101104,"v":80},{"p":101107,"v":68},{"p":101110,"v":88},{"p":101113,"v":79},{"p":101116,"v":96},{"p":101119,"v":91},{"p":101122,"v":86},{"p":101125,"v":88},
{"p":101128,"v":77},{"p":101131,"v":4},{"p":101134,"v":74},{"p":101137,"v":82},{"p":101140,"v":56},{"p":101143,"v":72},{"p":101146,"v":82},{"p":101149,"v":85},{"p":101152,"v":88},{"p":101155,"v":82},
{"p":101158,"v":84},{"p":101161,"v":78},{"p":101164,"v":81},{"p":101167,"v":80},{"p":101170,"v":90},{"p":101173,"v":93},{"p":101176,"v":83},{"p":101179,"v":84},{"p":101182,"v":84},{"p":101185,"v":86},
{"p":101188,"v":74},{"p":101191,"v":80},{"p":101194,"v":24},{"p":101197,"v":86},{"p":101200,"v":84},{"p":101203,"v":92},{"p":101206,"v":92},{"p":101209,"v":89},{"p":101212,"v":88},{"p":101215,"v":94},
{"p":101218,"v":92},{"p":101221,"v":88},{"p":101224,"v":74},{"p":101227,"v":17},{"p":101230,"v":95},{"p":101233,"v":58},{"p":101236,"v":86},{"p":101239,"v":94},{"p":101242,"v":50},{"p":101245,"v":70},
{"p":101248,"v":70},{"p":101251,"v":84},{"p":101254,"v":80},{"p":101257,"v":54},{"p":101260,"v":82},{"p":101263,"v":89},{"p":101266,"v":91},{"p":101269,"v":92},{"p":101272,"v":92},{"p":101275,"v":86},
{"p":101278,"v":88},{"p":101281,"v":83},{"p":101284,"v":77},{"p":101287,"v":76},{"p":101290,"v":96},{"p":101293,"v":90},{"p":101296,"v":94},{"p":101299,"v":87},{"p":101302,"v":84},{"p":101305,"v":74},
{"p":101308,"v":88},{"p":101311,"v":74},{"p":101314,"v":67},{"p":101317,"v":88},{"p":101320,"v":90},{"p":101323,"v":91},{"p":101326,"v":87},{"p":101329,"v":92},{"p":101332,"v":88},{"p":101335,"v":85},
{"p":101338,"v":82},{"p":101341,"v":81},{"p":101344,"v":81},{"p":101347,"v":87},{"p":101350,"v":86},{"p":101353,"v":78},{"p":101356,"v":60},{"p":101359,"v":86},{"p":101362,"v":80},{"p":101365,"v":88},
{"p":101368,"v":83},{"p":101371,"v":87},{"p":101374,"v":79},{"p":101377,"v":81},{"p":101380,"v":85},{"p":101383,"v":77},{"p":101386,"v":85},{"p":101389,"v":83},{"p":101392,"v":75},{"p":101395,"v":89},
{"p":101398,"v":77},{"p":101401,"v":82},{"p":101404,"v":88},{"p":101407,"v":89},{"p":101410,"v":76},{"p":101413,"v":85},{"p":101416,"v":90},{"p":101419,"v":94},{"p":101422,"v":82},{"p":101425,"v":92},
{"p":101428,"v":83},{"p":101431,"v":88},{"p":101434,"v":88},{"p":101437,"v":82},{"p":101440,"v":75},{"p":101443,"v":64},{"p":101446,"v":50},{"p":101449,"v":70},{"p":101452,"v":40},{"p":101455,"v":60},
{"p":101458,"v":88},{"p":101461,"v":90},{"p":101464,"v":82},{"p":101467,"v":85},{"p":101470,"v":81},{"p":101473,"v":87},{"p":101476,"v":77},{"p":101479,"v":91},{"p":101482,"v":91},{"p":101485,"v":70},
{"p":101488,"v":55},{"p":101491,"v":86},{"p":101494,"v":72},{"p":101497,"v":89},{"p":101500,"v":72},{"p":101503,"v":69},{"p":101506,"v":59},{"p":101509,"v":77},{"p":101512,"v":75},{"p":101515,"v":69},
{"p":101518,"v":62},{"p":101521,"v":74},{"p":101524,"v":38},{"p":101527,"v":17},{"p":101530,"v":67},{"p":101533,"v":61},{"p":101536,"v":80},{"p":101539,"v":85},{"p":101542,"v":92},{"p":101545,"v":87},
{"p":101548,"v":78},{"p":101551,"v":88},{"p":101554,"v":86},{"p":101557,"v":70},{"p":101560,"v":76},{"p":101563,"v":66},{"p":101566,"v":64},{"p":101569,"v":86},{"p":101572,"v":79},{"p":101575,"v":70},
{"p":101578,"v":90},{"p":101581,"v":54},{"p":101584,"v":70},{"p":101587,"v":84},{"p":101590,"v":74},{"p":101593,"v":67},{"p":101596,"v":78},{"p":101599,"v":59},{"p":101602,"v":68},{"p":101605,"v":33},
{"p":101608,"v":18},{"p":101611,"v":14},{"p":101614,"v":5},{"p":101617,"v":34},{"p":101620,"v":92},{"p":101623,"v":92},{"p":101626,"v":95},{"p":101629,"v":94},{"p":101632,"v":86},{"p":101635,"v":88},
{"p":101638,"v":94},{"p":101641,"v":90},{"p":101644,"v":93},{"p":101647,"v":87}],
"P7":[{"p":100888,"v":94},{"p":100891,"v":95},{"p":100894,"v":94},{"p":100897,"v":91},{"p":100900,"v":93},{"p":100903,"v":93},{"p":100906,"v":43},{"p":100909,"v":86},{"p":100912,"v":91},{"p":100915,"v":92},
{"p":100918,"v":93},{"p":100921,"v":91},{"p":100924,"v":92},{"p":100927,"v":89},{"p":100930,"v":86},{"p":100933,"v":91},{"p":100936,"v":73},{"p":100939,"v":91},{"p":100942,"v":69},{"p":100945,"v":81},
{"p":100948,"v":84},{"p":100951,"v":85},{"p":100954,"v":72},{"p":100957,"v":85},{"p":100960,"v":93},{"p":100963,"v":89},{"p":100966,"v":83},{"p":100969,"v":91},{"p":100972,"v":89},{"p":100975,"v":90},
{"p":100978,"v":90},{"p":100981,"v":91},{"p":100984,"v":90},{"p":100987,"v":71},{"p":100990,"v":85},{"p":100993,"v":90},{"p":100996,"v":91},{"p":100999,"v":89},{"p":101002,"v":76},{"p":101005,"v":93},
{"p":101008,"v":76},{"p":101011,"v":86},{"p":101014,"v":88},{"p":101017,"v":76},{"p":101020,"v":87},{"p":101023,"v":85},{"p":101026,"v":92},{"p":101029,"v":91},{"p":101032,"v":79},{"p":101035,"v":92},
{"p":101038,"v":93},{"p":101041,"v":84},{"p":101044,"v":86},{"p":101047,"v":94},{"p":101050,"v":79},{"p":101053,"v":85},{"p":101056,"v":78},{"p":101059,"v":86},{"p":101062,"v":87},{"p":101065,"v":92},
{"p":101068,"v":93},{"p":101071,"v":90},{"p":101074,"v":93},{"p":101077,"v":88},{"p":101080,"v":89},{"p":101083,"v":66},{"p":101086,"v":92},{"p":101089,"v":82},{"p":101092,"v":87},{"p":101095,"v":86},
{"p":101098,"v":86},{"p":101101,"v":79},{"p":101104,"v":78},{"p":101107,"v":61},{"p":101110,"v":86},{"p":101113,"v":72},{"p":101116,"v":90},{"p":101119,"v":90},{"p":101122,"v":88},{"p":101125,"v":91},
{"p":101128,"v":73},{"p":101131,"v":3},{"p":101134,"v":72},{"p":101137,"v":90},{"p":101140,"v":68},{"p":101143,"v":71},{"p":101146,"v":84},{"p":101149,"v":83},{"p":101152,"v":90},{"p":101155,"v":81},
{"p":101158,"v":77},{"p":101161,"v":78},{"p":101164,"v":85},{"p":101167,"v":79},{"p":101170,"v":88},{"p":101173,"v":90},{"p":101176,"v":89},{"p":101179,"v":84},{"p":101182,"v":87},{"p":101185,"v":88},
{"p":101188,"v":67},{"p":101191,"v":68},{"p":101194,"v":21},{"p":101197,"v":85},{"p":101200,"v":83},{"p":101203,"v":91},{"p":101206,"v":90},{"p":101209,"v":91},{"p":101212,"v":85},{"p":101215,"v":87},
{"p":101218,"v":84},{"p":101221,"v":90},{"p":101224,"v":69},{"p":101227,"v":15},{"p":101230,"v":92},{"p":101233,"v":56},{"p":101236,"v":87},{"p":101239,"v":92},{"p":101242,"v":54},{"p":101245,"v":73},
{"p":101248,"v":69},{"p":101251,"v":84},{"p":101254,"v":68},{"p":101257,"v":52},{"p":101260,"v":85},{"p":101263,"v":86},{"p":101266,"v":91},{"p":101269,"v":92},{"p":101272,"v":89},{"p":101275,"v":89},
{"p":101278,"v":87},{"p":101281,"v":84},{"p":101284,"v":71},{"p":101287,"v":73},{"p":101290,"v":92},{"p":101293,"v":88},{"p":101296,"v":89},{"p":101299,"v":81},{"p":101302,"v":79},{"p":101305,"v":69},
{"p":101308,"v":86},{"p":101311,"v":71},{"p":101314,"v":63},{"p":101317,"v":85},{"p":101320,"v":84},{"p":101323,"v":87},{"p":101326,"v":79},{"p":101329,"v":89},{"p":101332,"v":88},{"p":101335,"v":79},
{"p":101338,"v":77},{"p":101341,"v":81},{"p":101344,"v":77},{"p":101347,"v":89},{"p":101350,"v":91},{"p":101353,"v":71},{"p":101356,"v":56},{"p":101359,"v":79},{"p":101362,"v":87},{"p":101365,"v":90},
{"p":101368,"v":81},{"p":101371,"v":84},{"p":101374,"v":81},{"p":101377,"v":86},{"p":101380,"v":87},{"p":101383,"v":73},{"p":101386,"v":83},{"p":101389,"v":81},{"p":101392,"v":75},{"p":101395,"v":88},
{"p":101398,"v":76},{"p":101401,"v":81},{"p":101404,"v":89},{"p":101407,"v":87},{"p":101410,"v":76},{"p":101413,"v":85},{"p":101416,"v":90},{"p":101419,"v":92},{"p":101422,"v":82},{"p":101425,"v":88},
{"p":101428,"v":81},{"p":101431,"v":88},{"p":101434,"v":89},{"p":101437,"v":82},{"p":101440,"v":76},{"p":101443,"v":59},{"p":101446,"v":48},{"p":101449,"v":73},{"p":101452,"v":35},{"p":101455,"v":51},
{"p":101458,"v":56},{"p":101461,"v":87},{"p":101464,"v":82},{"p":101467,"v":86},{"p":101470,"v":79},{"p":101473,"v":85},{"p":101476,"v":73},{"p":101479,"v":89},{"p":101482,"v":89},{"p":101485,"v":70},
{"p":101488,"v":53},{"p":101491,"v":76},{"p":101494,"v":70},{"p":101497,"v":87},{"p":101500,"v":70},{"p":101503,"v":76},{"p":101506,"v":60},{"p":101509,"v":75},{"p":101512,"v":75},{"p":101515,"v":71},
{"p":101518,"v":60},{"p":101521,"v":64},{"p":101524,"v":35},{"p":101527,"v":17},{"p":101530,"v":63},{"p":101533,"v":57},{"p":101536,"v":74},{"p":101539,"v":81},{"p":101542,"v":91},{"p":101545,"v":89},
{"p":101548,"v":81},{"p":101551,"v":89},{"p":101554,"v":83},{"p":101557,"v":62},{"p":101560,"v":84},{"p":101563,"v":67},{"p":101566,"v":61},{"p":101569,"v":82},{"p":101572,"v":83},{"p":101575,"v":62},
{"p":101578,"v":88},{"p":101581,"v":50},{"p":101584,"v":66},{"p":101587,"v":77},{"p":101590,"v":76},{"p":101593,"v":71},{"p":101596,"v":75},{"p":101599,"v":60},{"p":101602,"v":63},{"p":101605,"v":26},
{"p":101608,"v":16},{"p":101611,"v":14},{"p":101614,"v":6},{"p":101617,"v":34},{"p":101620,"v":91},{"p":101623,"v":91},{"p":101626,"v":92},{"p":101629,"v":92},{"p":101632,"v":86},{"p":101635,"v":87},
{"p":101638,"v":90},{"p":101641,"v":88},{"p":101644,"v":90},{"p":101647,"v":87}],
"gene":[{"kind":"tx","lane":1,"start":100938.8,"end":101617.7},{"kind":"tx","lane":2,"start":100938.8,"end":101132.6},
{"kind":"arrow","lane":1,"pos":101025.2},{"kind":"arrow","lane":1,"pos":101212.8},{"kind":"arrow","lane":1,"pos":101366.1},{"kind":"arrow","lane":1,"pos":101519.8},{"kind":"arrow","lane":2,"pos":101025.2},
{"kind":"exon","lane":1,"pos":100942.5},{"kind":"exon","lane":1,"pos":101084.7},{"kind":"exon","lane":1,"pos":101090.9},{"kind":"exon","lane":1,"pos":101617.7},
{"kind":"exon","lane":2,"pos":100938.8},{"kind":"exon","lane":2,"pos":100942.5},{"kind":"exon","lane":2,"pos":101084.7},{"kind":"exon","lane":2,"pos":101090.9},{"kind":"exon","lane":2,"pos":101132.6},
{"kind":"utr","lane":1,"start":100926.4,"end":100938.8},
{"kind":"mk","lane":0,"start":101131.4,"end":101134.3,"label":"P2"},
{"kind":"mk","lane":0,"start":101612.8,"end":101618.2,"label":"P1"},
{"kind":"name","lane":2,"pos":101619,"label":"FGF14"}]
},
"vconcat":[
{"width":1844,"height":11,"data":{"values":[{"p":100888},{"p":101650}]},"mark":{"type":"point","opacity":0},
"encoding":{"x":{"field":"p","type":"quantitative","scale":{"domain":[100888,101650],"nice":false,"zero":false},
"axis":{"orient":"top","values":[100900,100950,101000,101050,101100,101150,101200,101250,101300,101350,101400,101450,101500,101550,101600,101650],
"labelExpr":"datum.value % 100 == 0 && datum.value > 100900 ? format(datum.value, ',') + ' kb' : ''",
"labelFontSize":27,"labelColor":"#231f20","labelPadding":5,"labelOverlap":false,"labelFlush":false,
"domainColor":"#231f20","domainWidth":2.5,"tickColor":"#231f20","tickWidth":1.5,"tickSize":12,
"title":"chr13","titleFontSize":33,"titleFontWeight":"bold","titleColor":"#231f20","titleAnchor":"start","titleAlign":"left","titleBaseline":"alphabetic","titleX":-10,"titleY":-22}}}},
{"width":1844,"height":60,"data":{"name":"P3"},"mark":{"type":"bar","color":"#7ad0f4","binSpacing":0,"stroke":"#7ad0f4","strokeWidth":0.4},
"encoding":{"x":{"field":"p","type":"quantitative","bin":{"binned":true,"step":3},"scale":{"domain":[100888,101650],"nice":false,"zero":false},"axis":{"orient":"bottom","labels":false,"ticks":false,"title":null,"domainColor":"#231f20","domainWidth":2.5,"offset":1.2}},
"y":{"field":"v","type":"quantitative","scale":{"domain":[0,100],"nice":false},"axis":{"title":"Patient P3","labels":false,"ticks":false,"domain":false,"titleAngle":0,"titleAlign":"right","titleBaseline":"alphabetic","titleX":-22,"titleY":51,"titleFontSize":37,"titleFontWeight":"normal","titleColor":"#1a1a1a"}}}},
{"width":1844,"height":60,"data":{"name":"P2"},"mark":{"type":"bar","color":"#7ad0f4","binSpacing":0,"stroke":"#7ad0f4","strokeWidth":0.4},
"encoding":{"x":{"field":"p","type":"quantitative","bin":{"binned":true,"step":3},"scale":{"domain":[100888,101650],"nice":false,"zero":false},"axis":{"orient":"bottom","labels":false,"ticks":false,"title":null,"domainColor":"#231f20","domainWidth":2.5,"offset":1.2}},
"y":{"field":"v","type":"quantitative","scale":{"domain":[0,100],"nice":false},"axis":{"title":"Patient P2","labels":false,"ticks":false,"domain":false,"titleAngle":0,"titleAlign":"right","titleBaseline":"alphabetic","titleX":-22,"titleY":51,"titleFontSize":37,"titleFontWeight":"normal","titleColor":"#1a1a1a"}}}},
{"width":1844,"height":60,"data":{"name":"C15"},"mark":{"type":"bar","color":"#7ad0f4","binSpacing":0,"stroke":"#7ad0f4","strokeWidth":0.4},
"encoding":{"x":{"field":"p","type":"quantitative","bin":{"binned":true,"step":3},"scale":{"domain":[100888,101650],"nice":false,"zero":false},"axis":{"orient":"bottom","labels":false,"ticks":false,"title":null,"domainColor":"#231f20","domainWidth":2.5,"offset":1.2}},
"y":{"field":"v","type":"quantitative","scale":{"domain":[0,100],"nice":false},"axis":{"title":"Control C15","labels":false,"ticks":false,"domain":false,"titleAngle":0,"titleAlign":"right","titleBaseline":"alphabetic","titleX":-22,"titleY":51,"titleFontSize":37,"titleFontWeight":"normal","titleColor":"#1a1a1a"}}}},
{"width":1844,"height":60,"data":{"name":"C16"},"mark":{"type":"bar","color":"#7ad0f4","binSpacing":0,"stroke":"#7ad0f4","strokeWidth":0.4},
"encoding":{"x":{"field":"p","type":"quantitative","bin":{"binned":true,"step":3},"scale":{"domain":[100888,101650],"nice":false,"zero":false},"axis":{"orient":"bottom","labels":false,"ticks":false,"title":null,"domainColor":"#231f20","domainWidth":2.5,"offset":1.2}},
"y":{"field":"v","type":"quantitative","scale":{"domain":[0,100],"nice":false},"axis":{"title":"Control C16","labels":false,"ticks":false,"domain":false,"titleAngle":0,"titleAlign":"right","titleBaseline":"alphabetic","titleX":-22,"titleY":51,"titleFontSize":37,"titleFontWeight":"normal","titleColor":"#1a1a1a"}}}},
{"width":1844,"height":60,"data":{"name":"C17"},"mark":{"type":"bar","color":"#7ad0f4","binSpacing":0,"stroke":"#7ad0f4","strokeWidth":0.4},
"encoding":{"x":{"field":"p","type":"quantitative","bin":{"binned":true,"step":3},"scale":{"domain":[100888,101650],"nice":false,"zero":false},"axis":{"orient":"bottom","labels":false,"ticks":false,"title":null,"domainColor":"#231f20","domainWidth":2.5,"offset":1.2}},
"y":{"field":"v","type":"quantitative","scale":{"domain":[0,100],"nice":false},"axis":{"title":"Control C17","labels":false,"ticks":false,"domain":false,"titleAngle":0,"titleAlign":"right","titleBaseline":"alphabetic","titleX":-22,"titleY":51,"titleFontSize":37,"titleFontWeight":"normal","titleColor":"#1a1a1a"}}}},
{"width":1844,"height":60,"data":{"name":"C18"},"mark":{"type":"bar","color":"#7ad0f4","binSpacing":0,"stroke":"#7ad0f4","strokeWidth":0.4},
"encoding":{"x":{"field":"p","type":"quantitative","bin":{"binned":true,"step":3},"scale":{"domain":[100888,101650],"nice":false,"zero":false},"axis":{"orient":"bottom","labels":false,"ticks":false,"title":null,"domainColor":"#231f20","domainWidth":2.5,"offset":1.2}},
"y":{"field":"v","type":"quantitative","scale":{"domain":[0,100],"nice":false},"axis":{"title":"Control C18","labels":false,"ticks":false,"domain":false,"titleAngle":0,"titleAlign":"right","titleBaseline":"alphabetic","titleX":-22,"titleY":51,"titleFontSize":37,"titleFontWeight":"normal","titleColor":"#1a1a1a"}}}},
{"width":1844,"height":60,"data":{"name":"P1"},"mark":{"type":"bar","color":"#7ad0f4","binSpacing":0,"stroke":"#7ad0f4","strokeWidth":0.4},
"encoding":{"x":{"field":"p","type":"quantitative","bin":{"binned":true,"step":3},"scale":{"domain":[100888,101650],"nice":false,"zero":false},"axis":{"orient":"bottom","labels":false,"ticks":false,"title":null,"domainColor":"#231f20","domainWidth":2.5,"offset":1.2}},
"y":{"field":"v","type":"quantitative","scale":{"domain":[0,100],"nice":false},"axis":{"title":"Patient P1","labels":false,"ticks":false,"domain":false,"titleAngle":0,"titleAlign":"right","titleBaseline":"alphabetic","titleX":-22,"titleY":51,"titleFontSize":37,"titleFontWeight":"normal","titleColor":"#1a1a1a"}}}},
{"width":1844,"height":60,"data":{"name":"P7"},"mark":{"type":"bar","color":"#7ad0f4","binSpacing":0,"stroke":"#7ad0f4","strokeWidth":0.4},
"encoding":{"x":{"field":"p","type":"quantitative","bin":{"binned":true,"step":3},"scale":{"domain":[100888,101650],"nice":false,"zero":false},"axis":{"orient":"bottom","labels":false,"ticks":false,"title":null,"domainColor":"#231f20","domainWidth":2.5,"offset":1.2}},
"y":{"field":"v","type":"quantitative","scale":{"domain":[0,100],"nice":false},"axis":{"title":"Patient P7","labels":false,"ticks":false,"domain":false,"titleAngle":0,"titleAlign":"right","titleBaseline":"alphabetic","titleX":-22,"titleY":51,"titleFontSize":37,"titleFontWeight":"normal","titleColor":"#1a1a1a"}}}},
{"width":1844,"height":150,"data":{"name":"gene"},
"encoding":{"y":{"field":"lane","type":"quantitative","scale":{"domain":[-0.36,2.64],"reverse":true,"nice":false,"zero":false},"axis":null}},
"layer":[
{"transform":[{"filter":"datum.kind == 'tx'"}],"mark":{"type":"rule","color":"#d1d3d4","strokeWidth":15},
"encoding":{"x":{"field":"start","type":"quantitative","scale":{"domain":[100888,101650],"nice":false,"zero":false},"axis":null},"x2":{"field":"end"}}},
{"transform":[{"filter":"datum.kind == 'arrow'"}],"mark":{"type":"point","shape":"M -1.24 0 L 0 -1 L 0 1 Z","size":3000,"filled":true,"color":"#d1d3d4","opacity":1,"strokeWidth":0},
"encoding":{"x":{"field":"pos","type":"quantitative"}}},
{"transform":[{"filter":"datum.kind == 'exon'"}],"mark":{"type":"tick","orient":"vertical","thickness":2.2,"size":24,"color":"#2e3192","opacity":1},
"encoding":{"x":{"field":"pos","type":"quantitative"}}},
{"transform":[{"filter":"datum.kind == 'utr'"}],"mark":{"type":"bar","orient":"horizontal","height":25,"color":"#283891"},
"encoding":{"x":{"field":"start","type":"quantitative"},"x2":{"field":"end"}}},
{"transform":[{"filter":"datum.kind == 'mk'"}],"mark":{"type":"bar","orient":"horizontal","height":23,"color":"#231f20"},
"encoding":{"x":{"field":"start","type":"quantitative"},"x2":{"field":"end"}}},
{"transform":[{"filter":"datum.kind == 'mk'"}],"mark":{"type":"text","align":"left","baseline":"alphabetic","dx":15,"dy":20,"fontSize":44,"color":"#231f20"},
"encoding":{"x":{"field":"end","type":"quantitative"},"text":{"field":"label"}}},
{"transform":[{"filter":"datum.kind == 'name'"}],"mark":{"type":"text","align":"right","baseline":"alphabetic","dy":24,"fontSize":44,"color":"#231f20"},
"encoding":{"x":{"field":"pos","type":"quantitative"},"text":{"field":"label"}}}
]}
]
}
